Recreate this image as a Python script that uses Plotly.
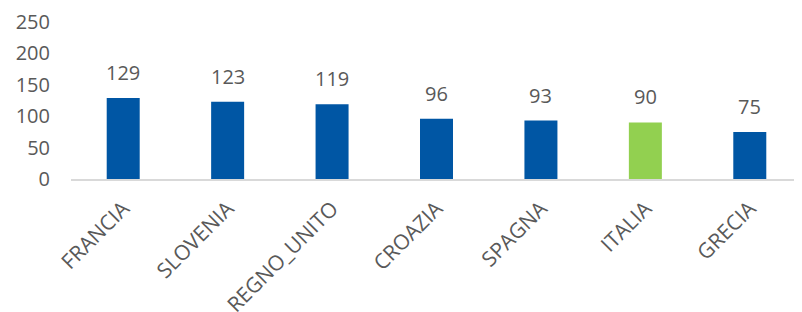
import plotly.graph_objects as go

categories = ["FRANCIA", "SLOVENIA", "REGNO_UNITO", "CROAZIA", "SPAGNA", "ITALIA", "GRECIA"]
values = [129, 123, 119, 96, 93, 90, 75]
highlight = "ITALIA"

BLUE = "#0056A4"
GREEN = "#92D050"
colors = [GREEN if c == highlight else BLUE for c in categories]
FONT = "Open Sans"
TXT = "#595959"

fig = go.Figure()
fig.add_trace(go.Bar(
    x=categories, y=values, marker=dict(color=colors, line=dict(width=0)),
    hoverinfo="x+y",
))
for c, v in zip(categories, values):
    fig.add_annotation(x=c, y=v, text=str(v), showarrow=False, yanchor="bottom",
                       yshift=10, font=dict(family=FONT, size=20, color=TXT))

fig.update_layout(
    width=794, height=304,
    margin=dict(l=63, r=0, t=14, b=133, autoexpand=False),
    plot_bgcolor="white", paper_bgcolor="white",
    bargap=0.684, showlegend=False,
    font=dict(family=FONT, size=20, color=TXT),
)
fig.update_xaxes(tickangle=-45, showline=True, linecolor="#D9D9D9", linewidth=2,
                 showgrid=False, ticks="", automargin=False, ticklabelstandoff=7,
                 tickfont=dict(family=FONT, size=21, color=TXT))
fig.update_yaxes(range=[0, 250], dtick=50, showgrid=False, zeroline=False, showline=False,
                 ticks="", automargin=False, ticklabelstandoff=20,
                 tickfont=dict(family=FONT, size=20, color=TXT))

fig.write_html("out.html")
